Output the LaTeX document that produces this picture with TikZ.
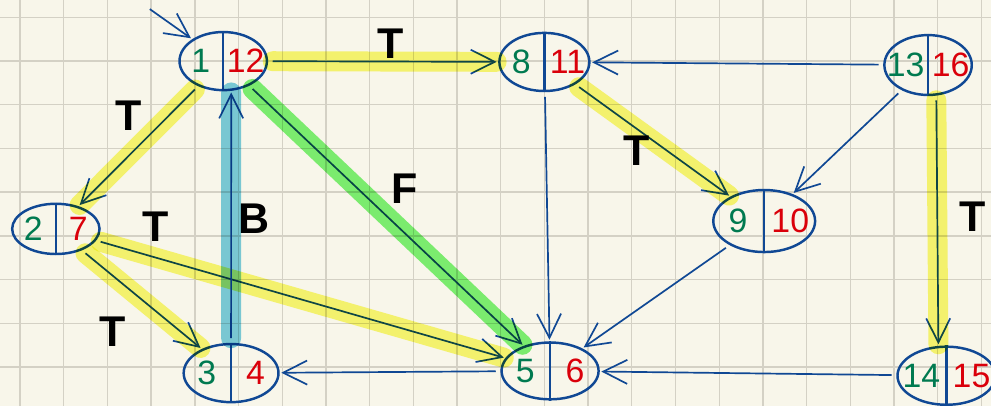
\documentclass[tikz,border=0pt]{standalone}
\usepackage{fontspec}
\setmainfont{Liberation Sans}
\usetikzlibrary{shapes.geometric,arrows.meta,calc}

\definecolor{paper}{RGB}{248,246,234}
\definecolor{gridgray}{RGB}{212,209,197}
\definecolor{ink}{RGB}{16,72,148}
\definecolor{dgreen}{RGB}{0,122,80}
\definecolor{dred}{RGB}{218,0,10}
\definecolor{hlyellow}{RGB}{250,250,119}
\definecolor{hlgreen}{RGB}{127,244,120}
\definecolor{hlblue}{RGB}{125,207,229}

\tikzset{
	vtx/.style={ellipse,draw=ink,line width=1.6pt,inner sep=0pt},
	dnum/.style={text=dgreen,font=\fontsize{22}{22}\selectfont},
	fnum/.style={text=dred,font=\fontsize{22}{22}\selectfont},
	edge/.style={draw=ink,line width=1.1pt,-{Straight Barb[length=5.5mm,width=5.5mm]},
		shorten <=3pt,shorten >=1pt},
	hl/.style={postaction={draw=#1,-,line width=13pt,line cap=round,blend mode=multiply}},
	lbl/.style={font=\fontsize{28}{28}\selectfont\bfseries}
}

% vertex: name, position, width, height, discovery, finish
\newcommand{\visit}[6]{%
	\node[vtx,minimum width=#3cm,minimum height=#4cm] (#1) at (#2) {};
	\draw[ink,line width=1.6pt] (#1.north) -- (#1.south);
	\node[dnum] (#1d) at ($(#1.center)!.5!(#1.west)$) {#5};
	\node[fnum] (#1f) at ($(#1.center)!.5!(#1.east)$) {#6};}

\begin{document}
\begin{tikzpicture}
	\useasboundingbox (-0.458,-0.892) rectangle (22.22,8.398);
	\clip (-0.458,-0.892) rectangle (22.22,8.398);
	\fill[paper] (-0.458,-0.892) rectangle (22.22,8.398);
	\draw[gridgray,line width=0.9pt] (-1,-1) grid (23,9);

	\visit{n1}{4.65,7}{2.0}{1.33}{1}{12}
	\visit{n8}{12,6.98}{2.06}{1.33}{8}{11}
	\visit{n13}{20.78,6.91}{2.0}{1.37}{13}{16}
	\visit{n2}{0.82,3.16}{2.0}{1.15}{2}{7}
	\visit{n9}{17.03,3.34}{2.33}{1.42}{9}{10}
	\visit{n3}{4.83,-0.14}{2.17}{1.33}{3}{4}
	\visit{n5}{12.13,-0.09}{2.22}{1.3}{5}{6}
	\visit{n14}{21.2,-0.2}{2.24}{1.33}{14}{15}

	\coordinate (start) at (2.97,8.19);
	\draw[edge,shorten <=0pt] (start) -- (n1);

	% tree edges
	\draw[edge,hl=hlyellow] (n1) -- (n8);
	\draw[edge,hl=hlyellow] (n1) -- (n2);
	\draw[edge,hl=hlyellow] (n2) -- (n3);
	\draw[edge,hl=hlyellow] (n2) -- (n5);
	\draw[edge,hl=hlyellow] (n8) -- (n9);
	\draw[edge,hl=hlyellow] (n13.-75) -- (n14.105);
	% back and forward edges
	\draw[edge,hl=hlblue] (n3.north) -- (n1.-75);
	\draw[edge,hl=hlgreen] (n1) -- (n5);
	% the rest
	\draw[edge] (n8) -- (n5);
	\draw[edge] (n13) -- (n8);
	\draw[edge] (n13) -- (n9);
	\draw[edge] (n9) -- (n5);
	\draw[edge] (n14) -- (n5);
	\draw[edge] (n5) -- (n3);

	\node[lbl] (t18) at (8.49,7.39) {T};
	\node[lbl] (t12) at (2.49,5.74) {T};
	\node[lbl] (t25) at (3.11,3.22) {T};
	\node[lbl] (t23) at (2.13,0.80) {T};
	\node[lbl] (t89) at (14.12,4.94) {T};
	\node[lbl] (t1314) at (21.81,3.43) {T};
	\node[lbl] (b31) at (5.35,3.39) {B};
	\node[lbl] (f15) at (8.81,4.09) {F};
\end{tikzpicture}
\end{document}
